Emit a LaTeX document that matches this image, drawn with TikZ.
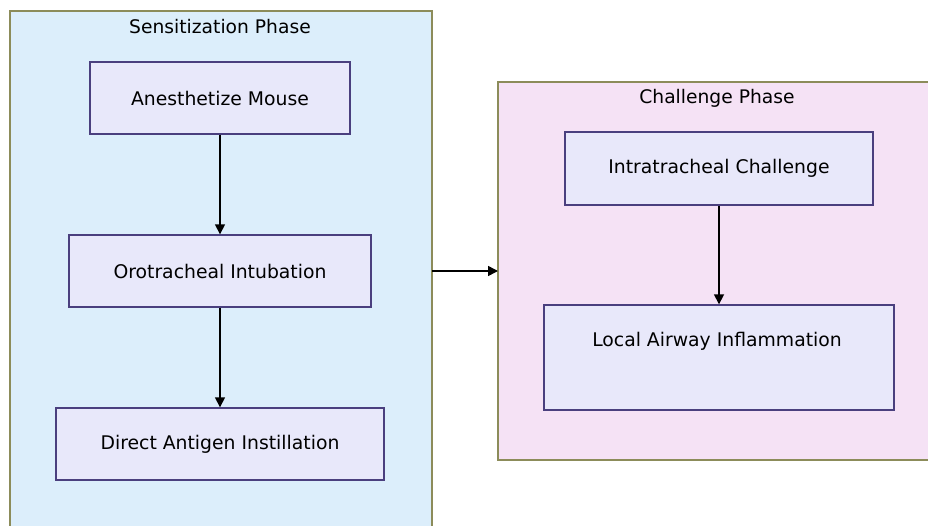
\documentclass[tikz,border=0pt]{standalone}
\usepackage{fontspec}
\setmainfont{DejaVu Sans}
\usetikzlibrary{arrows.meta}
\definecolor{clusterA}{HTML}{DCEEFB}
\definecolor{clusterB}{HTML}{F5E2F5}
\definecolor{clusterline}{HTML}{8C8C5A}
\definecolor{nodefill}{HTML}{E8E8FA}
\definecolor{nodeline}{HTML}{4A3F7E}
\tikzset{
  cluster/.style={draw=clusterline, line width=1.5pt},
  procbox/.style={draw=nodeline, fill=nodefill, line width=1.4pt, rectangle, inner sep=0pt},
  lbl/.style={font=\fontsize{18.8}{22}\selectfont, text=black, inner sep=0pt},
  ttl/.style={font=\fontsize{18.7}{22}\selectfont, text=black, inner sep=0pt},
  flow/.style={draw=black, line width=1.6pt, -{Triangle[length=10pt,width=10pt]}}
}
\begin{document}
\begin{tikzpicture}[x=1pt,y=-1pt]
\useasboundingbox (0,0) rectangle (928,525);
\fill[white] (0,0) rectangle (928,525);
% clusters
\filldraw[cluster, fill=clusterA] (10,11) rectangle (432,540);
\filldraw[cluster, fill=clusterB] (498,82) rectangle (945,460);
\node[ttl] (t1) at (220,27) {Sensitization Phase};
\node[ttl] (t2) at (717,98) {Challenge Phase};
% nodes
\node[procbox, minimum width=260pt, minimum height=72pt] (a) at (220,98) {};
\node[lbl] at (a.center) {Anesthetize Mouse};
\node[procbox, minimum width=302pt, minimum height=72pt] (b) at (220,271) {};
\node[lbl] at (b.center) {Orotracheal Intubation};
\node[procbox, minimum width=328pt, minimum height=72pt] (c) at (220,444) {};
\node[lbl] at (c.center) {Direct Antigen Instillation};
\node[procbox, minimum width=308pt, minimum height=73pt] (d) at (719,168.5) {};
\node[lbl] at (d.center) {Intratracheal Challenge};
\node[procbox, minimum width=350pt, minimum height=105pt] (e) at (719,357.5) {};
\node[lbl] at (717,341.5) {Local Airway Inflammation};
% connectors
\coordinate (ca) at (432,271);
\coordinate (cb) at (498,271);
\draw[flow] (a.south) -- (b.north);
\draw[flow] (b.south) -- (c.north);
\draw[flow] (d.south) -- (e.north);
\draw[flow] (ca) -- (cb);
\end{tikzpicture}
\end{document}
